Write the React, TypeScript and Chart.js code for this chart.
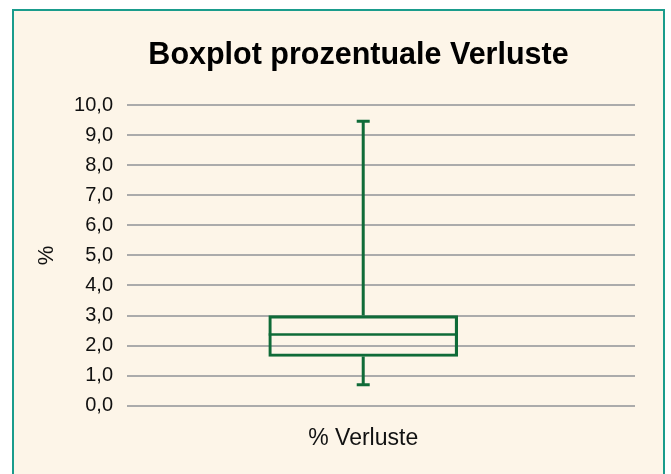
import React, { useEffect, useRef } from 'react';
import { Chart, registerables } from 'chart.js';

Chart.register(...registerables);

const TITLE = 'Boxplot prozentuale Verluste';
const CATEGORIES = ['% Verluste'];
const Y_AXIS_TITLE = '%';
const Y_TICK_LABELS = ['0,0', '1,0', '2,0', '3,0', '4,0', '5,0', '6,0', '7,0', '8,0', '9,0', '10,0'];
const MIN_VALUES = [0.7];
const Q1_VALUES = [1.64];
const MEDIAN_VALUES = [2.37];
const Q3_VALUES = [3.0];
const MAX_VALUES = [9.46];

const FONT = '"Liberation Sans", Arial, Helvetica, sans-serif';
const GREEN = '#0f6b38';

const whiskerPlugin = {
  id: 'boxWhiskers',
  afterDatasetsDraw(chart: any) {
    const meta = chart.getDatasetMeta(0);
    const y = chart.scales.y;
    const ctx = chart.ctx;
    ctx.save();
    ctx.strokeStyle = GREEN;
    ctx.lineCap = 'butt';
    meta.data.forEach((bar: any, i: number) => {
      const { x, width } = bar.getProps(['x', 'width'], true);
      const yMin = y.getPixelForValue(MIN_VALUES[i]);
      const yQ1 = y.getPixelForValue(Q1_VALUES[i]);
      const yMed = y.getPixelForValue(MEDIAN_VALUES[i]);
      const yQ3 = y.getPixelForValue(Q3_VALUES[i]);
      const yMax = y.getPixelForValue(MAX_VALUES[i]);
      const cap = 6.5;
      ctx.lineWidth = 3;
      ctx.beginPath();
      ctx.moveTo(x, yMax);
      ctx.lineTo(x, yQ3);
      ctx.moveTo(x, yQ1);
      ctx.lineTo(x, yMin);
      ctx.moveTo(x - cap, yMax);
      ctx.lineTo(x + cap, yMax);
      ctx.moveTo(x - cap, yMin);
      ctx.lineTo(x + cap, yMin);
      ctx.stroke();
      ctx.lineWidth = 2.5;
      ctx.beginPath();
      ctx.moveTo(x - width / 2, yMed);
      ctx.lineTo(x + width / 2, yMed);
      ctx.stroke();
    });
    ctx.restore();
  },
};

// centre the chart title over the region between the value labels' start and the plot's right edge
const titleSpanPlugin = {
  id: 'titleSpan',
  afterLayout(chart: any) {
    const t = chart.titleBlock;
    if (t) {
      t.left = 82;
      t.right = chart.chartArea.right;
      t.width = t.right - t.left;
    }
  },
};

export default function App() {
  const canvasRef = useRef<HTMLCanvasElement | null>(null);

  useEffect(() => {
    if (!canvasRef.current) return;
    const chart = new Chart(canvasRef.current, {
      type: 'bar',
      data: {
        datasets: [
          {
            data: CATEGORIES.map((_, i) => ({ x: i, y: [Q1_VALUES[i], Q3_VALUES[i]] })) as any,
            backgroundColor: 'transparent',
            borderColor: GREEN,
            borderWidth: 2.5,
            borderSkipped: false,
            barThickness: 189,
          },
        ],
      },
      options: {
        animation: false,
        responsive: false,
        devicePixelRatio: 1,
        layout: { padding: { left: 68, right: 36, top: 0, bottom: 2.6 } },
        plugins: {
          legend: { display: false },
          tooltip: { enabled: false },
          title: {
            display: true,
            text: TITLE,
            color: '#000',
            font: { family: FONT, size: 30.5, weight: 'bold' },
            padding: { top: 37, bottom: 31.4 },
          },
        },
        scales: {
          x: {
            type: 'linear',
            min: -0.465,
            max: 0.535,
            offset: false,
            grid: { display: false, offset: false, drawTicks: false },
            border: { display: false },
            afterBuildTicks: (axis: any) => {
              axis.ticks = CATEGORIES.map((_, i) => ({ value: i }));
            },
            ticks: {
              autoSkip: false,
              padding: 19,
              color: '#111',
              font: { family: FONT, size: 23 },
              callback: (value: any) => CATEGORIES[Math.round(Number(value))] ?? '',
            },
          },
          y: {
            min: 0,
            max: 10,
            afterFit: (scale: any) => {
              scale.width = 59;
            },
            grid: { color: '#ababab', lineWidth: 2, drawTicks: false },
            border: { display: false },
            ticks: {
              stepSize: 1,
              padding: 14,
              color: '#111',
              font: { family: FONT, size: 20 },
              callback: (_v: any, i: number) => Y_TICK_LABELS[i],
            },
            title: {
              display: true,
              text: Y_AXIS_TITLE,
              color: '#111',
              font: { family: FONT, size: 22 },
              padding: { top: -34.2, bottom: 0 },
            },
          },
        },
      },
      plugins: [whiskerPlugin, titleSpanPlugin],
    });
    return () => chart.destroy();
  }, []);

  return (
    <div
      style={{
        position: 'absolute',
        left: 0,
        top: 0,
        width: 671,
        height: 474,
        overflow: 'hidden',
        background: '#ffffff',
      }}
    >
      <div
        style={{
          position: 'absolute',
          left: 12,
          top: 9,
          width: 649,
          height: 500,
          border: '2px solid #1a9c8c',
          background: '#fdf5e8',
        }}
      />
      <canvas
        ref={canvasRef}
        width={671}
        height={474}
        style={{ position: 'absolute', left: 0, top: 0, width: 671, height: 474 }}
      />
    </div>
  );
}
